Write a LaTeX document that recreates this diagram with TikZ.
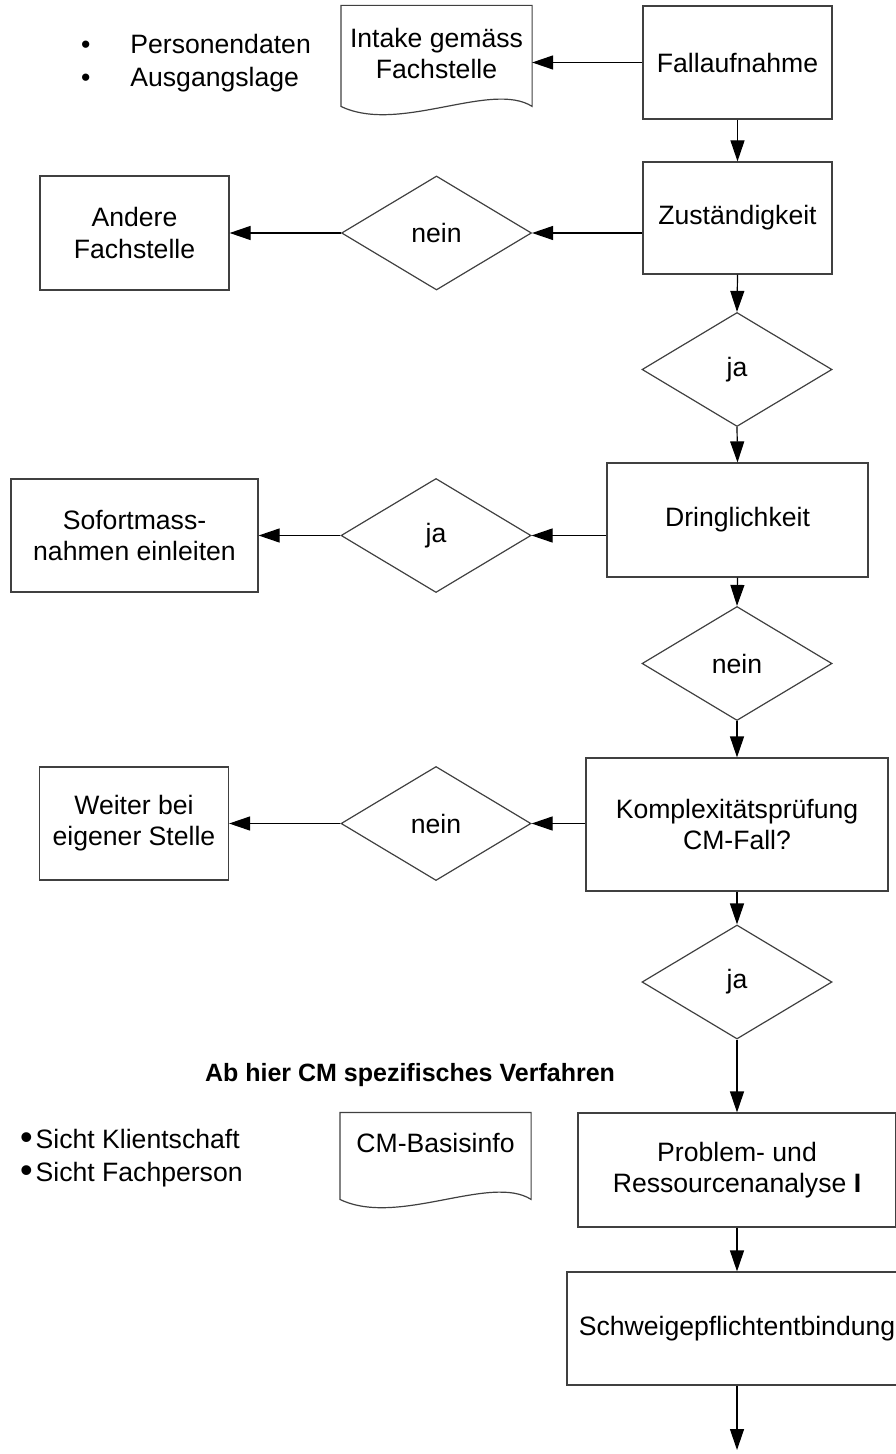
\documentclass[tikz,border=0pt]{standalone}
\usepackage{fontspec}
\setmainfont{Liberation Sans}
\usetikzlibrary{arrows.meta,shapes.geometric}

\begin{document}
\begin{tikzpicture}[x=0.5pt,y=-0.5pt,line width=0.6pt,
		every node/.style={font=\fontsize{13.3}{15.6}\selectfont},
		box/.style={rectangle, draw=black!75, inner sep=0pt, align=center},
		decision/.style={diamond, draw=black!75, inner sep=0pt, minimum width=95pt, minimum height=57pt},
		docnode/.style={rectangle, inner sep=0pt, minimum width=95pt, align=center},
		bullets/.style={inner sep=0pt, anchor=west, align=left, font=\fontsize{13.3}{16.5}\selectfont},
		>={Triangle[length=10.5pt,width=7pt]}]
		\useasboundingbox (0,0) rectangle (895,1454);

		% main column
		\node[box, minimum width=94.5pt, minimum height=56.5pt] (fallauf) at (737.5,62.5) {Fallaufnahme};
		\node[box, minimum width=94.5pt, minimum height=56pt] (zustaend) at (737.5,218) {Zuständigkeit};
		\node[decision] (zustja) at (737,369.5) {ja};
		\node[box, minimum width=130.5pt, minimum height=57pt] (dringl) at (737.5,520) {Dringlichkeit};
		\node[decision] (dringnein) at (737,663.5) {nein};
		\node[box, minimum width=151pt, minimum height=66.5pt] (komplex) at (737,824.5) {Komplexitätsprüfung\\CM-Fall?};
		\node[decision] (kompja) at (737,982) {ja};
		\node[box, minimum width=159pt, minimum height=57pt] (problem) at (737,1170) {Problem- und\\Ressourcenanalyse \textbf{I}};
		\node[box, minimum width=170pt, minimum height=56.5pt] (schweige) at (737,1328.5) {Schweigepflichtentbindung};
		\coordinate (ende) at (737,1450);

		% side branches
		\node[decision] (zustnein) at (436.5,233) {nein};
		\node[box, minimum width=94.5pt, minimum height=57pt] (andere) at (134.5,233) {Andere\\Fachstelle};
		\node[decision] (dringja) at (436,535.5) {ja};
		\node[box, minimum width=123.5pt, minimum height=56.5pt] (sofort) at (134.5,535.5) {Sofortmass-\\nahmen einleiten};
		\node[decision] (kompnein) at (436,823.5) {nein};
		\node[box, minimum width=94.5pt, minimum height=56.5pt] (weiter) at (134,823.5) {Weiter bei\\eigener Stelle};

		% documents
		\node[docnode, minimum height=47.5pt] (intake) at (436.5,53.5) {Intake gemäss\\Fachstelle};
		\draw[black!75] (intake.north west) -- (intake.north east) -- ([yshift=-50.5pt]intake.north east)
			.. controls +(-41,-26) and +(58,28) .. ([yshift=-50.5pt]intake.north west) -- cycle;
		\node[docnode, minimum height=30pt] (basisinfo) at (435.5,1143) {CM-Basisinfo};
		\draw[black!75] (basisinfo.north west) -- (basisinfo.north east) -- ([yshift=-43.5pt]basisinfo.north east)
			.. controls +(-41,-26) and +(58,28) .. ([yshift=-43.5pt]basisinfo.north west) -- cycle;

		% texts
		\node[bullets] (eckdaten) at (80.5,63) {\textbullet\hspace{20pt}Personendaten\\\textbullet\hspace{20pt}Ausgangslage};
		\node[bullets] (sichten) at (19.5,1158) {\raisebox{-0.6pt}{\scalebox{1.35}{\textbullet}}\hspace{1.5pt}Sicht Klientschaft\\\raisebox{-0.6pt}{\scalebox{1.35}{\textbullet}}\hspace{1.5pt}Sicht Fachperson};
		\node[font=\fontsize{12.5}{15}\selectfont\bfseries] (cmtitel) at (410,1075) {Ab hier CM spezifisches Verfahren};

		% arrows
		\draw[->] (fallauf.west) -- (fallauf.west -| intake.east);
		\draw[->] (fallauf.south) -- (zustaend.north);
		\draw[->] (zustaend.west |- zustnein) -- (zustnein.east);
		\draw[->] (zustnein.west) -- (andere.east);
		\draw[->] (zustaend.south) -- (zustja.north);
		\draw[->] (zustja.south) -- (dringl.north);
		\draw[->] (dringl.west |- dringja) -- (dringja.east);
		\draw[->] (dringja.west) -- (sofort.east);
		\draw[->] (dringl.south) -- (dringnein.north);
		\draw[->] (dringnein.south) -- (komplex.north);
		\draw[->] (komplex.west |- kompnein) -- (kompnein.east);
		\draw[->] (kompnein.west) -- (weiter.east);
		\draw[->] (komplex.south) -- (kompja.north);
		\draw[->] (kompja.south) -- (problem.north);
		\draw[->] (problem.south) -- (schweige.north);
		\draw[->] (schweige.south) -- (ende);
\end{tikzpicture}
\end{document}
